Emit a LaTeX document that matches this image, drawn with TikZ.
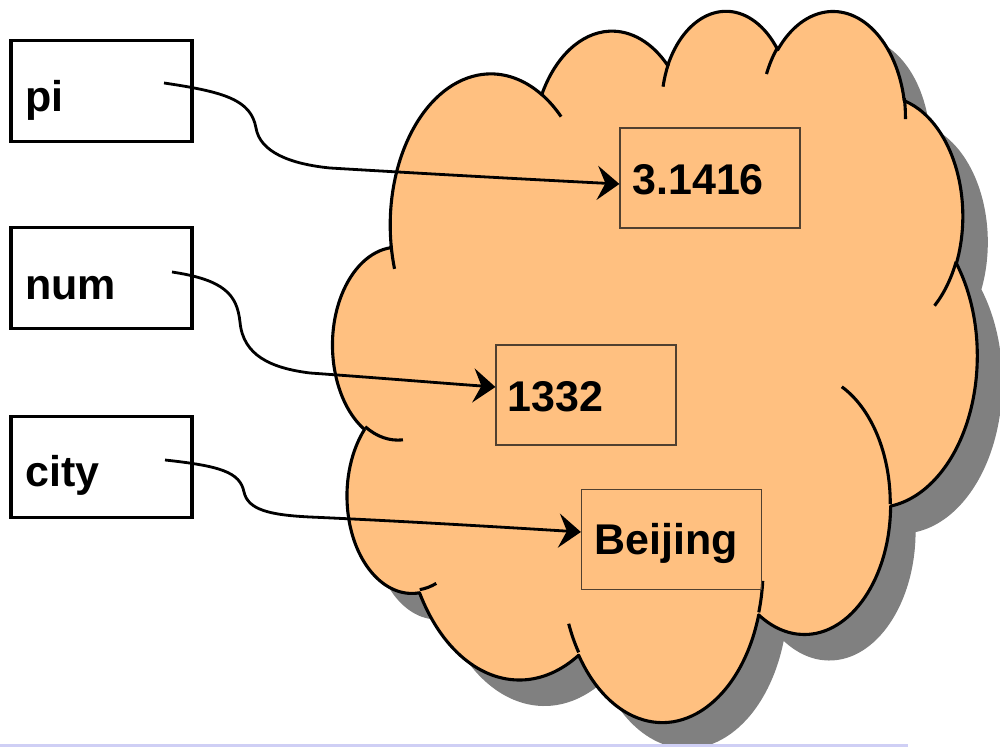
\documentclass[tikz,border=0pt]{standalone}
\usepackage{fontspec}
\setmainfont{Liberation Sans}
\usetikzlibrary{arrows.meta,calc}

\definecolor{cloudfill}{HTML}{FFC080}
\definecolor{cloudshade}{HTML}{808080}
\definecolor{valueline}{HTML}{504030}
\definecolor{footrule}{HTML}{CFCFF5}

% One lobe of the cloud: radii, start angle and sweep given as visual
% angles in degrees; TikZ ellipse arcs want parametric angles.
\newcommand\lobedef[5]{%
  \pgfmathsetmacro\lobeS{atan2((#2)*sin(#4),(#3)*cos(#4))}%
  \pgfmathsetmacro\lobeE{atan2((#2)*sin((#4)+(#5)),(#3)*cos((#4)+(#5)))}%
  \pgfmathsetmacro\lobeE{ifthenelse(\lobeE<\lobeS,\lobeE+360,\lobeE)}%
  \edef\lobeTmp{\noexpand\tikzset{#1/.style={start angle=\lobeS,end angle=\lobeE,x radius=#2,y radius=#3}}}%
  \lobeTmp}

% outline lobes, clockwise from the left
\lobedef{lobeA}{67.53}{91.90}{-190.4875}{123.7805}
\lobedef{lobeB}{53.33}{72.67}{-144.1024}{89.9452}
\lobedef{lobeC}{43.65}{59.45}{-145.8079}{99.7230}
\lobedef{lobeD}{48.57}{65.95}{-130.9861}{117.2417}
\lobedef{lobeE}{53.33}{72.73}{-78.7089}{109.0269}
\lobedef{lobeF}{67.75}{92.20}{-46.2673}{130.2690}
\lobedef{lobeG}{57.85}{78.67}{0.6250}{114.0333}
\lobedef{lobeH}{67.52}{92.15}{22.4516}{115.1726}
\lobedef{lobeI}{77.20}{105.43}{66.2426}{75.7110}
\lobedef{lobeJ}{43.60}{59.18}{-274.9421}{146.7356}
\lobedef{lobeK}{43.45}{59.45}{-246.8285}{152.5189}
% short inner strokes where lobes overlap
\lobedef{tailA}{43.45}{59.45}{86.7420}{26.4295}
\lobedef{tailB}{43.60}{59.18}{73.6105}{11.4475}
\lobedef{tailC}{67.52}{92.15}{137.6242}{14.0811}
\lobedef{tailD}{67.52}{92.15}{6.4533}{15.9984}
\lobedef{tailE}{57.85}{78.67}{-70.2924}{70.9174}
\lobedef{tailF}{53.33}{72.73}{30.3180}{27.7515}
\lobedef{tailG}{48.57}{65.95}{-13.7443}{14.8589}
\lobedef{tailH}{48.57}{65.95}{-149.1815}{18.1954}
\lobedef{tailI}{43.65}{59.45}{-163.4943}{17.6864}
\lobedef{tailJ}{67.53}{91.90}{-66.7070}{12.3194}
\lobedef{tailK}{67.53}{91.90}{157.6544}{11.8582}

\newcommand\cloudoutline{(39.00,143.70) arc[lobeA] arc[lobeB] arc[lobeC] arc[lobeD]
  arc[lobeE] arc[lobeF] arc[lobeG] arc[lobeH] arc[lobeI] arc[lobeJ] arc[lobeK] -- cycle}

\begin{document}
\begin{tikzpicture}[x=0.5pt,y=0.5pt,yscale=-1,
  cloudline/.style={line width=1.55pt,line join=round},
  namebox/.style={draw,line width=1.6pt,fill=white,minimum width=90.5pt,minimum height=50.5pt,inner sep=0pt},
  valuebox/.style={draw=valueline,line width=0.6pt,minimum width=90pt,minimum height=50pt,inner sep=0pt},
  word/.style={font=\fontsize{21.5}{26}\selectfont\bfseries,inner sep=0pt,anchor=base west},
  link/.style={line width=1.4pt,-{Stealth[length=11pt,width=17pt,inset=4pt]}}]
\useasboundingbox (0,0) rectangle (1000,747);

% drop shadow of the cloud
\begin{scope}[shift={(179pt,17.5pt)},x=0.74537pt,y=0.822917pt]
  \fill[cloudshade] \cloudoutline;
\end{scope}

% the cloud
\begin{scope}[shift={(166.5pt,4.5pt)},x=0.74537pt,y=0.822917pt]
  \fill[cloudfill] \cloudoutline;
  \draw[cloudline] \cloudoutline;
  \draw[cloudline] (46.93,261.77) arc[tailA] (69.28,348.99) arc[tailB]
    (164.78,390.90) arc[tailC] (288.27,347.51) arc[tailD]
    (341.29,229.54) arc[tailE] (417.98,153.54) arc[tailF]
    (383.24,54.26) arc[tailG] (290.78,39.52) arc[tailH]
    (221.41,47.20) arc[tailI] (140.00,51.92) arc[tailJ]
    (41.27,157.89) arc[tailK];
\end{scope}

% values
\node[valuebox] (pival) at (710,178) {};
\node[valuebox] (numval) at (586,395) {};
\node[valuebox] (cityval) at (671.5,539.5) {};
\node[word] (pivaltext) at (632,195) {3.1416};
\node[word] (numvaltext) at (507,412) {1332};
\node[word] (cityvaltext) at (594,555) {Beijing};

% variable names
\node[namebox] (pibox) at (101.5,91) {};
\node[namebox] (numbox) at (101.5,278) {};
\node[namebox] (citybox) at (101.5,467) {};
\node[word] (pitext) at (25,112) {pi};
\node[word] (numtext) at (25,300) {num};
\node[word] (citytext) at (25,487) {city};

% references from names to values
\coordinate (pifrom) at (164,83);
\coordinate (numfrom) at (172,272);
\coordinate (cityfrom) at (165,460);
\draw[link] (pifrom) .. controls (225,92) and (251,100) .. (256,128)
  .. controls (260,152) and (290,164) .. (330,168)
  .. controls (430,174) and (540,180) .. ($(pival.west)+(0,6)$);
\draw[link] (numfrom) .. controls (225,280) and (237,295) .. (240,322)
  .. controls (243,355) and (270,368) .. (310,373)
  .. controls (380,378) and (440,383) .. ($(numval.west)+(0,-8)$);
\draw[link] (cityfrom) .. controls (220,466) and (240,472) .. (244,492)
  .. controls (248,510) and (270,515) .. (310,517)
  .. controls (400,521) and (500,527) .. ($(cityval.west)+(0,-7.5)$);

% rule along the bottom edge
\fill[footrule] (0,743.5) rectangle (908,747);
\end{tikzpicture}
\end{document}
